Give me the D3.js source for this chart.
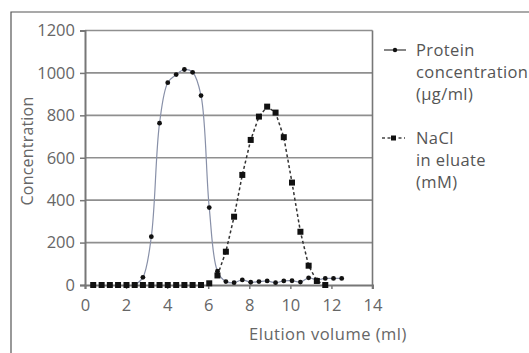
<!DOCTYPE html>
<html>
<head>
<meta charset="utf-8">
<script src="https://cdn.jsdelivr.net/npm/d3@7"></script>
<style>
  html, body { margin: 0; padding: 0; background: #fff; }
  svg { display: block; }
  text { font-family: "Open Sans", "DejaVu Sans", sans-serif; }
</style>
</head>
<body>
<svg id="chart" width="529" height="353"></svg>
<script>
// Elution volume (ml) of each collected fraction
const volumes = [0.40, 0.81, 1.21, 1.61, 2.02, 2.42, 2.82, 3.23, 3.63, 4.03, 4.44, 4.84,
  5.24, 5.65, 6.05, 6.45, 6.86, 7.26, 7.66, 8.07, 8.47, 8.87, 9.28, 9.68, 10.08, 10.49,
  10.89, 11.29, 11.70, 12.10, 12.50];

// Protein concentration (µg/ml) per fraction
const protein = [0, 0, 0, 0, 0, 0, 36, 228, 763, 954, 992, 1016,
  1003, 893, 365, 65, 16, 11, 24, 13, 16, 19, 11, 19, 20, 14,
  34, 24, 31, 31, 31];

// NaCl in eluate (mM) per fraction (last two fractions not measured)
const nacl = [0, 0, 0, 0, 0, 0, 0, 0, 0, 0, 0, 0,
  0, 0, 8, 45, 157, 322, 519, 684, 794, 841, 813, 697, 483, 251,
  91, 19, 0];

const xTicks = [0, 2, 4, 6, 8, 10, 12, 14];
const yTicks = [0, 200, 400, 600, 800, 1000, 1200];

const legendProtein = ["Protein", "concentration", "(µg/ml)"];
const legendNacl = ["NaCl", "in eluate", "(mM)"];

const svg = d3.select("#chart");
const textColor = "#666";

// outer frame
svg.append("path")
  .attr("d", "M11,353 L11,12 L529,12")
  .attr("fill", "none").attr("stroke", "#555").attr("stroke-width", 1.2);

const x = d3.scaleLinear().domain([0, 14]).range([85, 372.5]);
const y = d3.scaleLinear().domain([0, 1200]).range([285, 30.5]);

// horizontal gridlines
svg.append("g").selectAll("line").data(yTicks.filter(d => d > 0)).join("line")
  .attr("x1", x(0)).attr("x2", x(14))
  .attr("y1", d => y(d)).attr("y2", d => y(d))
  .attr("stroke", "#8f8f8f").attr("stroke-width", 1.6);

// right border of plot area
svg.append("line")
  .attr("x1", x(14)).attr("x2", x(14))
  .attr("y1", y(1200)).attr("y2", y(0) + 4)
  .attr("stroke", "#777").attr("stroke-width", 1.6);

// y axis
const yAxis = svg.append("g")
  .attr("transform", `translate(${x(0)},0)`)
  .call(d3.axisLeft(y).tickValues(yTicks).tickSize(5).tickPadding(5).tickFormat(d3.format("d")));
yAxis.select(".domain").attr("stroke", "#777").attr("stroke-width", 2);
yAxis.selectAll(".tick line").attr("stroke", "#777").attr("stroke-width", 1.5);
yAxis.selectAll("text").attr("fill", textColor).attr("font-size", 16.5)
  .style("font-family", "'Open Sans', sans-serif");

// x axis
const xAxis = svg.append("g")
  .attr("transform", `translate(0,${y(0)})`)
  .call(d3.axisBottom(x).tickValues(xTicks).tickSize(4).tickPadding(10));
xAxis.select(".domain").attr("stroke", "#777").attr("stroke-width", 2);
xAxis.selectAll(".tick line").attr("stroke", "#777").attr("stroke-width", 1.5);
xAxis.selectAll("text").attr("fill", textColor).attr("font-size", 16.5)
  .style("font-family", "'Open Sans', sans-serif");

// axis titles
svg.append("text")
  .attr("transform", `translate(33,151) rotate(-90)`)
  .attr("text-anchor", "middle")
  .attr("fill", textColor).attr("font-size", 16)
  .attr("letter-spacing", 0.2)
  .text("Concentration");

svg.append("text")
  .attr("x", 328).attr("y", 340)
  .attr("text-anchor", "middle")
  .attr("fill", textColor).attr("font-size", 16.5)
  .attr("letter-spacing", 0.5)
  .text("Elution volume (ml)");

// series data
const proteinPts = volumes.map((v, i) => [v, protein[i]]);
const naclPts = nacl.map((c, i) => [volumes[i], c]);

// NaCl dashed line: flat part is hidden under markers, line starts where it rises
const naclLine = d3.line().x(d => x(d[0])).y(d => y(d[1]));
svg.append("path")
  .datum(naclPts.slice(15))
  .attr("d", naclLine)
  .attr("fill", "none").attr("stroke", "#333").attr("stroke-width", 1.5)
  .attr("stroke-dasharray", "3,2.5");

// protein smooth line
const protLine = d3.line().curve(d3.curveCatmullRom.alpha(0.5))
  .x(d => x(d[0])).y(d => y(d[1]));
svg.append("path")
  .datum(proteinPts.slice(5))
  .attr("d", protLine)
  .attr("fill", "none").attr("stroke", "#8890a8").attr("stroke-width", 1.2);

// NaCl square markers
svg.append("g").selectAll("rect").data(naclPts).join("rect")
  .attr("x", d => x(d[0]) - 3).attr("y", d => y(d[1]) - 3)
  .attr("width", 6).attr("height", 6)
  .attr("fill", "#111");

// protein round markers
svg.append("g").selectAll("circle").data(proteinPts).join("circle")
  .attr("cx", d => x(d[0])).attr("cy", d => y(d[1]))
  .attr("r", 2.4)
  .attr("fill", "#111");

// legend
const lg = svg.append("g");
lg.append("line").attr("x1", 384).attr("x2", 406).attr("y1", 50).attr("y2", 50)
  .attr("stroke", "#444").attr("stroke-width", 1.3);
lg.append("circle").attr("cx", 395).attr("cy", 50).attr("r", 2.2).attr("fill", "#111");
lg.append("line").attr("x1", 382).attr("x2", 405).attr("y1", 138).attr("y2", 138)
  .attr("stroke", "#444").attr("stroke-width", 1.3).attr("stroke-dasharray", "3,2.5");
lg.append("rect").attr("x", 391).attr("y", 135.5).attr("width", 5).attr("height", 5).attr("fill", "#111");

lg.append("g").selectAll("text").data(legendProtein).join("text")
  .attr("x", 416).attr("y", (d, i) => 56 + i * 22)
  .attr("fill", "#555").attr("font-size", 16.5)
  .attr("letter-spacing", 0.4)
  .text(d => d);
lg.append("g").selectAll("text").data(legendNacl).join("text")
  .attr("x", 416).attr("y", (d, i) => 144 + i * 22)
  .attr("fill", "#555").attr("font-size", 16.5)
  .attr("letter-spacing", 0.4)
  .text(d => d);
</script>
</body>
</html>
